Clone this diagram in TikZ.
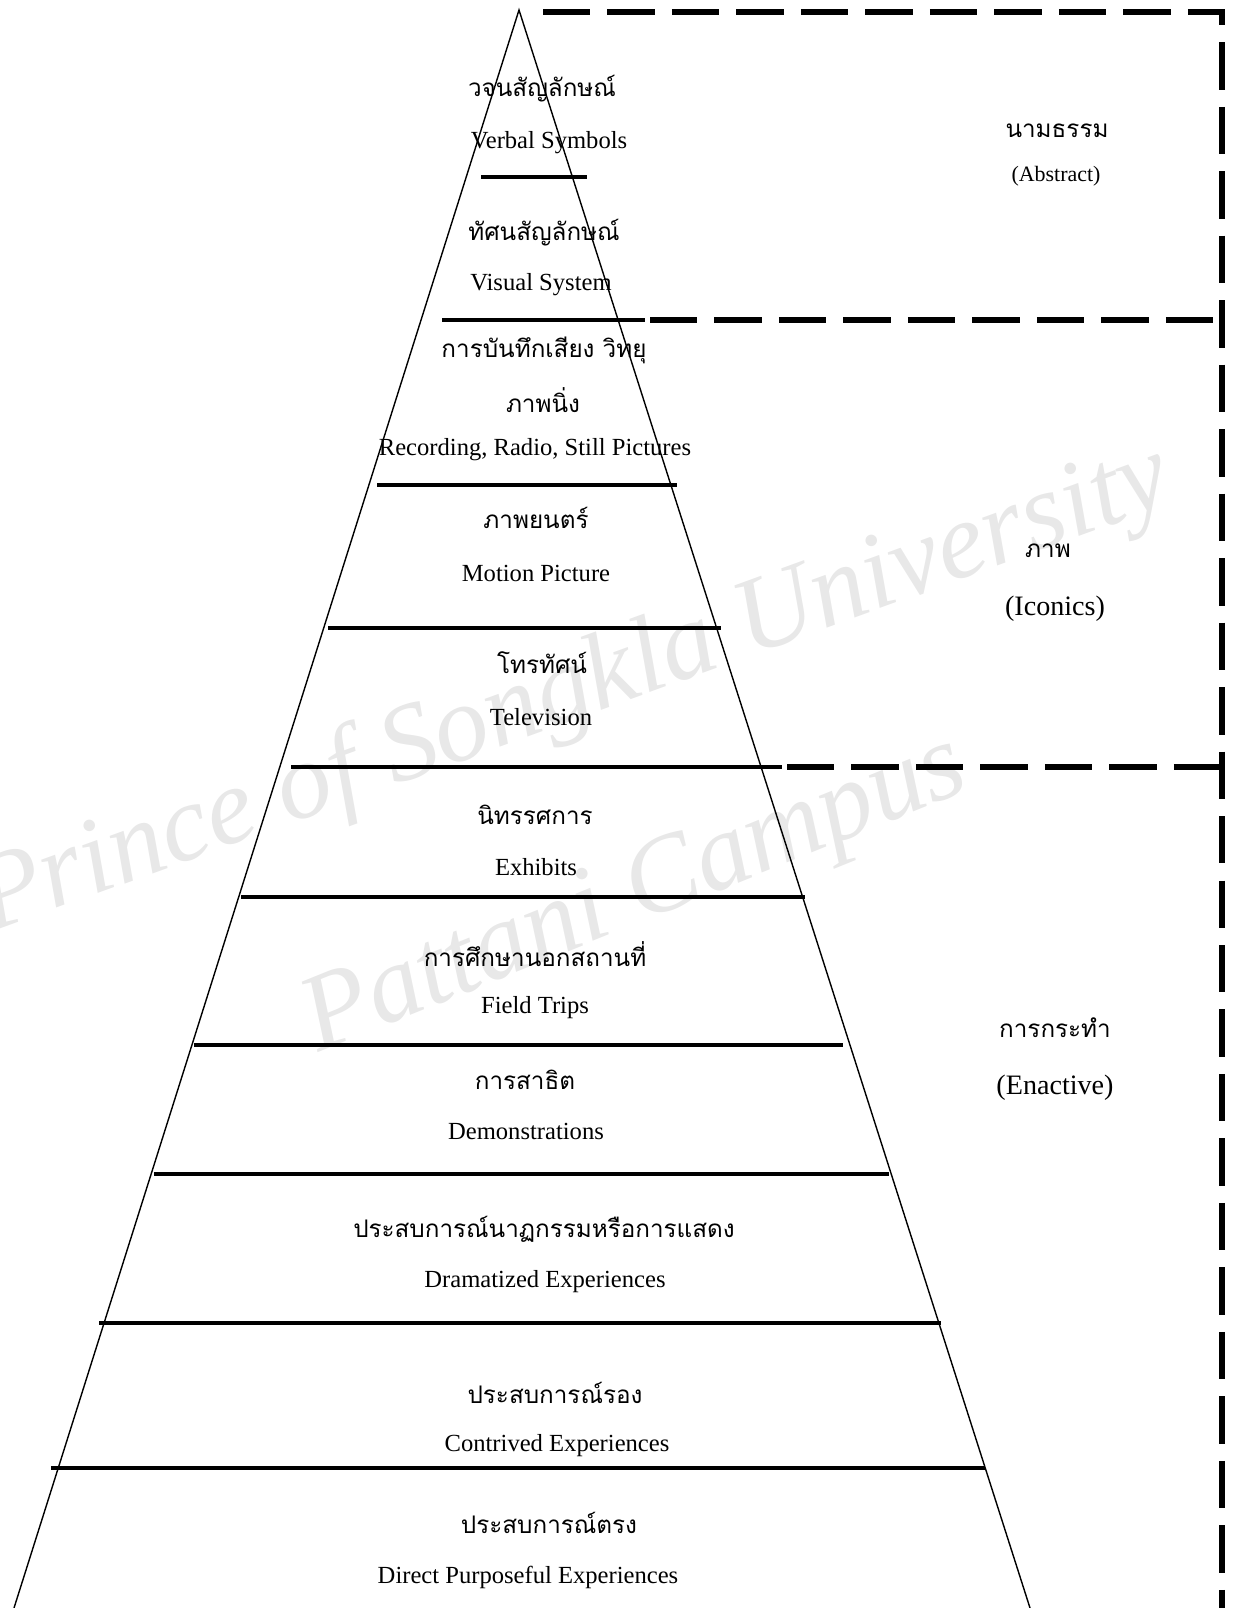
\documentclass[tikz,border=0pt]{standalone}
\usepackage{fontspec}
\setmainfont{Liberation Serif}
\newfontfamily\thaifont[Script=Thai]{Loma}

\begin{document}
\begin{tikzpicture}[x=0.02cm,y=-0.02cm,
    bar/.style={line width=2.8pt},
    side/.style={line width=0.8pt},
    zone/.style={line width=3.4pt,dash pattern=on 27pt off 9.7pt},
    lbl/.style={inner sep=0pt,anchor=center},
    th/.style={lbl,font=\thaifont\fontsize{13.8}{16}\selectfont},
    en/.style={lbl,font=\fontsize{14}{17}\selectfont},
    big/.style={lbl,font=\fontsize{16}{19}\selectfont},
    wmark/.style={lbl,text=black!9,font=\itshape\fontsize{62}{70}\selectfont}]
    \useasboundingbox (0,0) rectangle (1233,1608);

    % watermark
    \node[wmark,rotate=20] (wm1) at (574,692) {Prince of Songkla University};
    \node[wmark,rotate=22] (wm2) at (636,898) {Pattani Campus};

    % pyramid
    \coordinate (apex) at (519,10);
    \coordinate (bl) at (14,1608);
    \coordinate (br) at (1030,1608);
    \draw[side] (bl) -- (apex) -- (br);

    % level bars
    \draw[bar] (481,177) -- (587,177);
    \draw[bar] (442,320) -- (645,320);
    \draw[bar] (377,485) -- (677,485);
    \draw[bar] (328,628) -- (721,628);
    \draw[bar] (291,767) -- (782,767);
    \draw[bar] (241,897) -- (805,897);
    \draw[bar] (194,1045) -- (843,1045);
    \draw[bar] (154,1174) -- (889,1174);
    \draw[bar] (99,1323) -- (941,1323);
    \draw[bar] (51,1468) -- (985,1468);

    % zones (dashed)
    \coordinate (ztl) at (543,12);
    \coordinate (ztr) at (1222,12);
    \coordinate (zbr) at (1222,1608);
    \coordinate (z1) at (650,320);
    \coordinate (z1r) at (1222,320);
    \coordinate (z2) at (787,767);
    \coordinate (z2r) at (1226,767);
    \draw[zone] (ztl) -- (ztr) -- (zbr);
    \draw[zone] (z1) -- (z1r);
    \draw[zone] (z2) -- (z2r);

    % levels
    \node[th] (l1t) at (542,89) {วจนสัญลักษณ์};
    \node[en] (l1e) at (549,143) {Verbal Symbols};
    \node[th] (l2t) at (544,233) {ทัศนสัญลักษณ์};
    \node[en] (l2e) at (541,285) {Visual System};
    \node[th] (l3t) at (544,350) {การบันทึกเสียง วิทยุ};
    \node[th] (l3u) at (543,400) {ภาพนิ่ง};
    \node[en] (l3e) at (535,450) {Recording, Radio, Still Pictures};
    \node[th] (l4t) at (536,518) {ภาพยนตร์};
    \node[en] (l4e) at (536,573) {Motion Picture};
    \node[th] (l5t) at (542,663) {โทรทัศน์};
    \node[en] (l5e) at (541,717) {Television};
    \node[th] (l6t) at (535,815) {นิทรรศการ};
    \node[en] (l6e) at (536,867) {Exhibits};
    \node[th] (l7t) at (535,954) {การศึกษานอกสถานที่};
    \node[en] (l7e) at (535,1008) {Field Trips};
    \node[th] (l8t) at (525,1080) {การสาธิต};
    \node[en] (l8e) at (526,1131) {Demonstrations};
    \node[th] (l9t) at (544,1229) {ประสบการณ์นาฏกรรมหรือการแสดง};
    \node[en] (l9e) at (545,1282) {Dramatized Experiences};
    \node[th] (l10t) at (555,1393) {ประสบการณ์รอง};
    \node[en] (l10e) at (557,1446) {Contrived Experiences};
    \node[th] (l11t) at (549,1523) {ประสบการณ์ตรง};
    \node[en] (l11e) at (528,1577) {Direct Purposeful Experiences};

    % zone names
    \node[th] (abs) at (1057,131) {นามธรรม};
    \node[lbl,font=\fontsize{12.5}{15}\selectfont] (abse) at (1056,176) {(Abstract)};
    \node[th] (ico) at (1048,551) {ภาพ};
    \node[big] (icoe) at (1055,609) {(Iconics)};
    \node[th] (ena) at (1055,1028) {การกระทำ};
    \node[big] (enae) at (1055,1088) {(Enactive)};
\end{tikzpicture}
\end{document}
